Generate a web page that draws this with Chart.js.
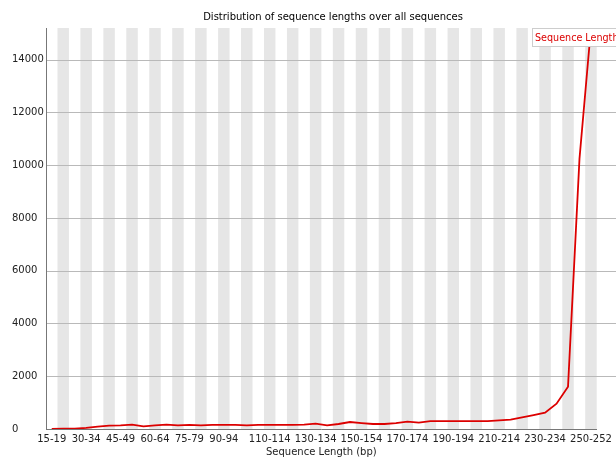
<!DOCTYPE html>
<html>
<head>
<meta charset="utf-8">
<script src="https://cdn.jsdelivr.net/npm/chart.js@4"></script>
<style>
  body { margin: 0; background: #fff; }
  canvas { display: block; }
</style>
</head>
<body>
<canvas id="chart" width="616" height="458"></canvas>
<script>
const categories = [
  '15-19', '20-24', '25-29', '30-34', '35-39', '40-44', '45-49', '50-54',
  '55-59', '60-64', '65-69', '70-74', '75-79', '80-84', '85-89', '90-94',
  '95-99', '100-104', '105-109', '110-114', '115-119', '120-124', '125-129', '130-134',
  '135-139', '140-144', '145-149', '150-154', '155-159', '160-164', '165-169', '170-174',
  '175-179', '180-184', '185-189', '190-194', '195-199', '200-204', '205-209', '210-214',
  '215-219', '220-224', '225-229', '230-234', '235-239', '240-244', '245-249', '250-252'
];

const counts = [
  0, 10, 15, 40, 90, 125, 140, 165,
  100, 140, 165, 140, 160, 140, 160, 160,
  160, 140, 160, 160, 160, 160, 165, 200,
  140, 190, 265, 225, 190, 190, 225, 280,
  240, 300, 300, 300, 300, 300, 300, 330,
  355, 440, 530, 620, 960, 1600, 10250, 15200
];

// labels FastQC managed to fit without overlap
const shownTicks = [
  '15-19', '30-34', '45-49', '60-64', '75-79', '90-94', '110-114',
  '130-134', '150-154', '170-174', '190-194', '210-214', '230-234', '250-252'
];

const yTicks = [0, 2000, 4000, 6000, 8000, 10000, 12000, 14000];

const FONT = 'DejaVu Sans';
const RED = 'rgb(220,0,0)';

// grey stripes on every other category, plus horizontal grid lines
const background = {
  id: 'background',
  beforeDraw(chart) {
    const ctx = chart.ctx;
    const area = chart.chartArea;
    const x = chart.scales.x;
    const y = chart.scales.y;
    const w = x.width / categories.length;
    ctx.save();
    ctx.fillStyle = 'rgb(230,230,230)';
    categories.forEach((c, i) => {
      if (i % 2 === 1) {
        const cx = x.getPixelForValue(i);
        ctx.fillRect(cx - w / 2, area.top, w, area.bottom - area.top);
      }
    });
    ctx.strokeStyle = 'rgb(185,185,185)';
    ctx.lineWidth = 1;
    yTicks.forEach(v => {
      if (v === 0) return;
      const py = Math.round(y.getPixelForValue(v)) + 0.5;
      ctx.beginPath();
      ctx.moveTo(area.left, py);
      ctx.lineTo(chart.width, py);
      ctx.stroke();
    });
    ctx.restore();
  },
  afterDraw(chart) {
    const ctx = chart.ctx;
    ctx.save();
    ctx.font = '10px "' + FONT + '"';
    ctx.fillStyle = '#000';
    ctx.textAlign = 'center';
    ctx.textBaseline = 'middle';
    ctx.fillText('Distribution of sequence lengths over all sequences', 333, 17);

    // legend box, cut off by the right edge like the original
    const lx = 532.5, ly = 28.5;
    ctx.fillStyle = '#fff';
    ctx.fillRect(lx, ly, 120, 18);
    ctx.strokeStyle = 'rgb(205,205,205)';
    ctx.strokeRect(lx, ly, 120, 18);
    ctx.fillStyle = RED;
    ctx.textAlign = 'left';
    ctx.font = '9.6px "' + FONT + '"';
    ctx.fillText(chart.data.datasets[0].label, lx + 2.5, ly + 10);
    ctx.restore();
  }
};

new Chart(document.getElementById('chart'), {
  type: 'line',
  data: {
    labels: categories,
    datasets: [{
      label: 'Sequence Length (bp)',
      data: counts,
      borderColor: RED,
      borderWidth: 1.8,
      pointRadius: 0,
      tension: 0,
      fill: false
    }]
  },
  options: {
    responsive: false,
    animation: false,
    devicePixelRatio: 1,
    layout: { padding: { left: 12, right: 14, top: 28, bottom: 0 } },
    plugins: {
      legend: { display: false },
      title: { display: false },
      tooltip: { enabled: false }
    },
    scales: {
      x: {
        offset: true,
        grid: { display: false, drawTicks: false },
        border: { display: true, color: '#777', width: 1 },
        ticks: {
          autoSkip: false,
          maxRotation: 0,
          padding: 4,
          color: '#222',
          font: { family: FONT, size: 10 },
          callback(val, i) {
            const lab = categories[i];
            return shownTicks.includes(lab) ? lab : '';
          }
        },
        title: {
          display: true,
          text: 'Sequence Length (bp)',
          color: '#222',
          font: { family: FONT, size: 10 },
          padding: { top: 0, bottom: 0 }
        },
        afterFit(scale) { scale.height = 29; }
      },
      y: {
        min: 0,
        max: 15200,
        grid: { display: false, drawTicks: false },
        border: { display: true, color: '#777', width: 1 },
        ticks: {
          crossAlign: 'far',
          color: '#222',
          font: { family: FONT, size: 10 },
          callback: v => String(v)
        },
        afterBuildTicks(scale) {
          scale.ticks = yTicks.map(v => ({ value: v }));
        },
        afterFit(scale) { scale.width = 34; }
      }
    }
  },
  plugins: [background]
});
</script>
</body>
</html>
